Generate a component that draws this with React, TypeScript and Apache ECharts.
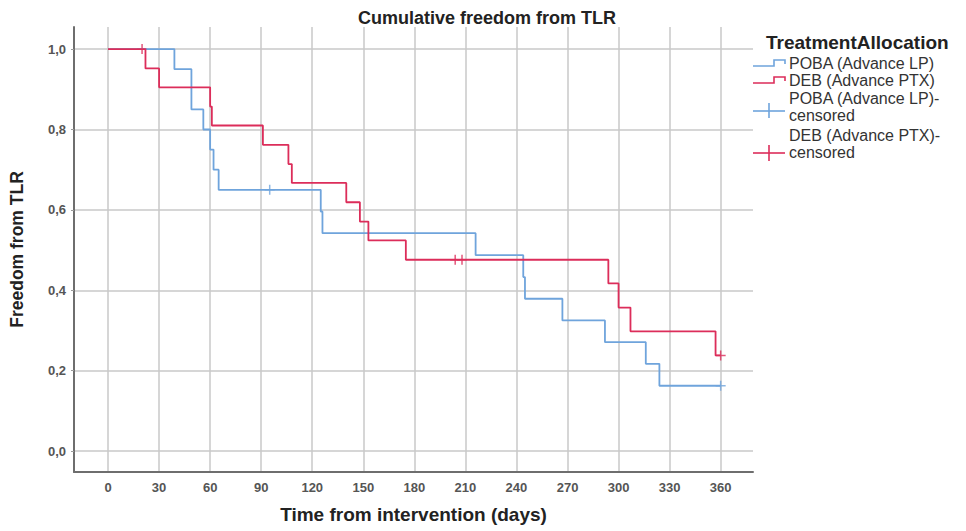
import React, { useEffect, useRef } from "react";
import * as echarts from "echarts";

// ---- data ----
const xTicks = [0, 30, 60, 90, 120, 150, 180, 210, 240, 270, 300, 330, 360];
const yTicks = [0, 0.2, 0.4, 0.6, 0.8, 1.0];

const pobaTimes = [0, 39, 49, 56, 60, 62, 65, 125, 126, 216, 244, 245, 267, 292, 316, 324, 360];
const pobaSurv = [1.0, 0.95, 0.85, 0.8, 0.75, 0.7, 0.65, 0.596, 0.542, 0.4875, 0.433, 0.379, 0.325, 0.271, 0.217, 0.1625, 0.1625];

const debTimes = [0, 22, 30, 60, 61, 91, 106, 108, 140, 148, 153, 175, 294, 300, 307, 357, 360];
const debSurv = [1.0, 0.952, 0.905, 0.857, 0.81, 0.762, 0.714, 0.667, 0.619, 0.571, 0.524, 0.476, 0.417, 0.357, 0.298, 0.238, 0.238];

const pobaCensorTimes = [95, 360];
const pobaCensorSurv = [0.65, 0.1625];
const debCensorTimes = [20, 204, 208, 360];
const debCensorSurv = [1.0, 0.476, 0.476, 0.238];

const seriesNames = ["POBA (Advance LP)", "DEB (Advance PTX)"];
const censoredNames = ["POBA (Advance LP)-", "DEB (Advance PTX)-"];

const BLUE = "#6fa4dc";
const RED = "#dc2d5a";
const FONT = "Liberation Sans, Arial, sans-serif";
const PLUS = "path://M4.25,0H5.75V4.25H10V5.75H5.75V10H4.25V5.75H0V4.25H4.25Z";

const zip = (a: number[], b: number[]) => a.map((v, i) => [v, b[i]]);
const fmtY = (v: number) => v.toFixed(1).replace(".", ",");

export default function App() {
  const ref = useRef<HTMLDivElement>(null);
  useEffect(() => {
    if (!ref.current) return;
    const chart = echarts.init(ref.current, null, { renderer: "svg" });

    const legendText = (text: string, y: number, bold = false, size = 16) => ({
      type: "text",
      left: bold ? 766 : 789,
      top: y,
      style: {
        text,
        font: `${bold ? "bold " : ""}${size}px ${FONT}`,
        fill: bold ? "#222" : "#333",
      },
    });

    chart.setOption({
      animation: false,
      backgroundColor: "#ffffff",
      title: {
        text: "Cumulative freedom from TLR",
        left: 353,
        top: 4,
        textStyle: { fontFamily: FONT, fontWeight: "bold", fontSize: 18, color: "#222" },
      },
      grid: { left: 73, right: 213, top: 27, bottom: 59, containLabel: false },
      xAxis: {
        type: "value",
        min: -20,
        max: 379,
        name: "Time from intervention (days)",
        nameLocation: "middle",
        nameGap: 33,
        nameTextStyle: { fontFamily: FONT, fontWeight: "bold", fontSize: 19, color: "#222" },
        axisLine: { show: true, onZero: false, lineStyle: { color: "#6e6e6e", width: 2 } },
        axisTick: { show: false, customValues: xTicks },
        axisLabel: {
          customValues: xTicks,
          margin: 9,
          fontFamily: FONT,
          fontWeight: "bold",
          fontSize: 13,
          color: "#555",
        },
        splitLine: { show: true, lineStyle: { color: "#c8c8c8", width: 1.5 } },
      },
      yAxis: {
        type: "value",
        min: -0.052,
        max: 1.055,
        name: "Freedom from TLR",
        nameLocation: "middle",
        nameGap: 48,
        nameRotate: 90,
        nameTextStyle: { fontFamily: FONT, fontWeight: "bold", fontSize: 17.5, color: "#222" },
        axisLine: { show: true, onZero: false, lineStyle: { color: "#6e6e6e", width: 2 } },
        axisTick: { show: true, length: 3, customValues: yTicks, lineStyle: { color: "#9a9a9a" } },
        axisLabel: {
          customValues: yTicks,
          formatter: (v: number) => fmtY(v),
          margin: 8,
          fontFamily: FONT,
          fontWeight: "bold",
          fontSize: 13,
          color: "#555",
        },
        splitLine: { show: true, lineStyle: { color: "#c8c8c8", width: 1.5 } },
      },
      series: [
        {
          name: seriesNames[0],
          type: "line",
          step: "end",
          data: zip(pobaTimes, pobaSurv),
          showSymbol: false,
          lineStyle: { color: BLUE, width: 1.8 },
          itemStyle: { color: BLUE },
        },
        {
          name: seriesNames[1],
          type: "line",
          step: "end",
          data: zip(debTimes, debSurv),
          showSymbol: false,
          lineStyle: { color: RED, width: 1.8 },
          itemStyle: { color: RED },
        },
        {
          name: censoredNames[0] + "censored",
          type: "scatter",
          data: zip(pobaCensorTimes, pobaCensorSurv),
          symbol: PLUS,
          symbolSize: 10,
          itemStyle: { color: BLUE },
        },
        {
          name: censoredNames[1] + "censored",
          type: "scatter",
          data: zip(debCensorTimes, debCensorSurv),
          symbol: PLUS,
          symbolSize: 10,
          itemStyle: { color: RED },
        },
      ],
      graphic: [
        legendText("TreatmentAllocation", 33, true, 19),
        legendText(seriesNames[0], 55),
        legendText(seriesNames[1], 72),
        legendText(censoredNames[0], 90),
        legendText("censored", 107),
        legendText(censoredNames[1], 127),
        legendText("censored", 144),
        {
          type: "polyline",
          shape: { points: [[753, 66], [774, 66], [774, 60], [785, 60], [785, 64]] },
          style: { stroke: BLUE, lineWidth: 1.6, fill: "none" },
        },
        {
          type: "polyline",
          shape: { points: [[753, 83], [774, 83], [774, 77], [785, 77], [785, 81]] },
          style: { stroke: RED, lineWidth: 1.6, fill: "none" },
        },
        {
          type: "line",
          shape: { x1: 753, y1: 111, x2: 785, y2: 111 },
          style: { stroke: BLUE, lineWidth: 1.6 },
        },
        {
          type: "line",
          shape: { x1: 769, y1: 103, x2: 769, y2: 118 },
          style: { stroke: BLUE, lineWidth: 1.6 },
        },
        {
          type: "line",
          shape: { x1: 753, y1: 153, x2: 785, y2: 153 },
          style: { stroke: RED, lineWidth: 1.6 },
        },
        {
          type: "line",
          shape: { x1: 769, y1: 145, x2: 769, y2: 161 },
          style: { stroke: RED, lineWidth: 1.6 },
        },
      ],
    });
    return () => chart.dispose();
  }, []);

  return (
    <div
      ref={ref}
      style={{ position: "absolute", left: 0, top: 0, width: 966, height: 531, background: "#fff" }}
    />
  );
}
